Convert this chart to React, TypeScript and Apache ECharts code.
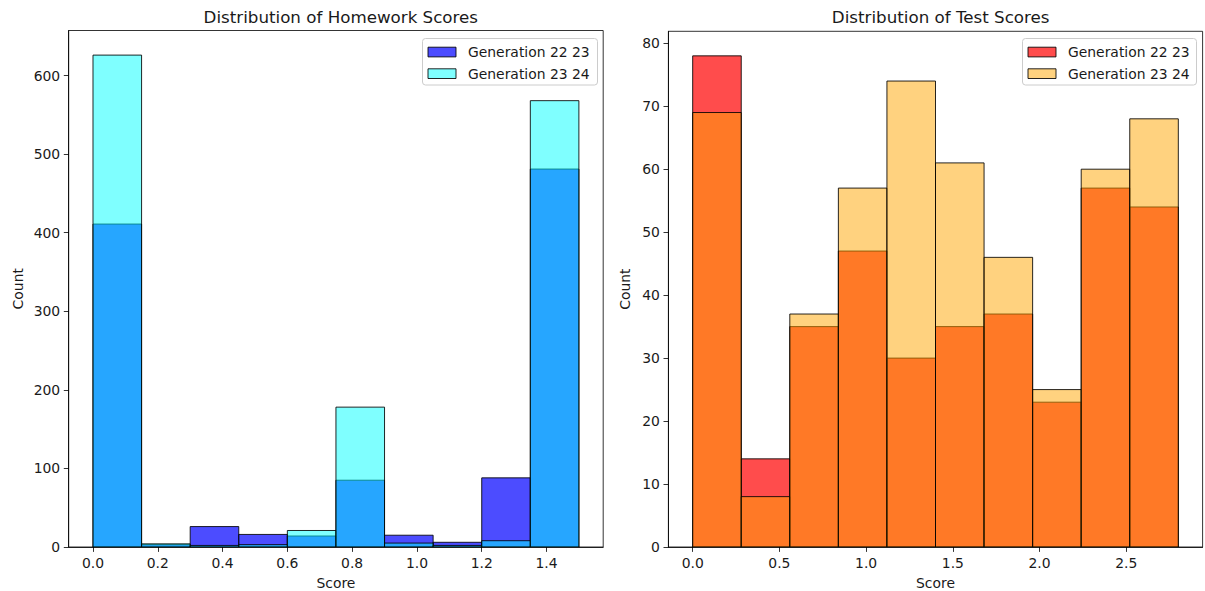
import React, { useEffect, useRef } from "react";
import * as echarts from "echarts";

const hwBins = [0, 0.15, 0.3, 0.45, 0.6, 0.75, 0.9, 1.05, 1.2, 1.35, 1.5];
const hwGen2223 = [411, 3, 26, 16, 14, 85, 15, 6, 88, 481];
const hwGen2324 = [626, 4, 2, 3, 21, 178, 5, 2, 8, 568];
const hwXTicks = [0, 0.2, 0.4, 0.6, 0.8, 1.0, 1.2, 1.4];
const hwYTicks = [0, 100, 200, 300, 400, 500, 600];

const testBins = [0, 0.28, 0.56, 0.84, 1.12, 1.4, 1.68, 1.96, 2.24, 2.52, 2.8];
const testGen2223 = [78, 14, 35, 47, 30, 35, 37, 23, 57, 54];
const testGen2324 = [69, 8, 37, 57, 74, 61, 46, 25, 60, 68];
const testXTicks = [0, 0.5, 1.0, 1.5, 2.0, 2.5];
const testYTicks = [0, 10, 20, 30, 40, 50, 60, 70, 80];

const seriesNames = ["Generation 22 23", "Generation 23 24"];

const FONT = "DejaVu Sans";
const TXT = "#1a1a1a";
const EDGE = "rgba(0,0,0,0.85)";

function binData(bins: number[], counts: number[]) {
  return counts.map((c, i) => [bins[i], bins[i + 1], c]);
}

function histSeries(name: string, data: number[][], fill: string, axisIndex: number) {
  return {
    type: "custom",
    name,
    xAxisIndex: axisIndex,
    yAxisIndex: axisIndex,
    data,
    encode: { x: [0, 1], y: 2 },
    clip: true,
    renderItem: (params: any, api: any) => {
      const p0 = api.coord([api.value(0), 0]);
      const p1 = api.coord([api.value(1), api.value(2)]);
      return {
        type: "rect",
        shape: {
          x: p0[0],
          y: p1[1],
          width: p1[0] - p0[0],
          height: p0[1] - p1[1],
        },
        style: { fill, stroke: EDGE, lineWidth: 1 },
      };
    },
  };
}

function legendGraphic(x: number, y: number, w: number, fills: string[]) {
  const children: any[] = [
    {
      type: "rect",
      shape: { x: 0, y: 0, width: w, height: 46.5, r: 3 },
      style: { fill: "rgba(255,255,255,0.8)", stroke: "#cccccc", lineWidth: 1 },
    },
  ];
  seriesNames.forEach((n, i) => {
    const cy = 13.5 + i * 21.6;
    children.push({
      type: "rect",
      shape: { x: 5.5, y: cy - 4.8, width: 28, height: 9.7 },
      style: { fill: fills[i], stroke: EDGE, lineWidth: 1 },
    });
    children.push({
      type: "text",
      x: 45.5,
      y: cy,
      style: {
        text: n,
        fill: TXT,
        font: `13.9px "${FONT}"`,
        textVerticalAlign: "middle",
        textAlign: "left",
      },
    });
  });
  return { type: "group", x, y, children };
}

function axisCommon() {
  return {
    axisLine: { show: true, onZero: false, lineStyle: { color: "#000", width: 0.8 } },
    axisTick: { show: true, inside: false, length: 4.9, lineStyle: { color: "#000", width: 0.8 } },
    axisLabel: { color: TXT, fontSize: 13.9, fontFamily: FONT, margin: 8.5 },
    splitLine: { show: false },
    nameTextStyle: { color: TXT, fontSize: 13.9, fontFamily: FONT },
  };
}

export default function App() {
  const ref = useRef<HTMLDivElement>(null);
  useEffect(() => {
    if (!ref.current) return;
    const chart = echarts.init(ref.current, null, { renderer: "svg" });
    const c = axisCommon();
    const fmt = (v: number) => v.toFixed(1);
    const option: any = {
      animation: false,
      backgroundColor: "#ffffff",
      title: [
        {
          text: "Distribution of Homework Scores",
          left: 335.8,
          top: 3,
          textAlign: "center",
          textStyle: { fontSize: 16.7, fontWeight: "normal", color: TXT, fontFamily: FONT },
        },
        {
          text: "Distribution of Test Scores",
          left: 935.7,
          top: 3,
          textAlign: "center",
          textStyle: { fontSize: 16.7, fontWeight: "normal", color: TXT, fontFamily: FONT },
        },
      ],
      grid: [
        { left: 68.7, top: 30.5, width: 534.5, height: 516.5, show: true, borderColor: "#000", borderWidth: 0.8, backgroundColor: "transparent", containLabel: false, outerBoundsMode: "none" },
        { left: 668.4, top: 31.3, width: 534.2, height: 515.7, show: true, borderColor: "#000", borderWidth: 0.8, backgroundColor: "transparent", containLabel: false, outerBoundsMode: "none" },
      ],
      xAxis: [
        {
          ...c,
          type: "value",
          gridIndex: 0,
          position: "bottom",
          min: -0.075,
          max: 1.575,
          name: "Score",
          nameLocation: "middle",
          nameGap: 29,
          axisTick: { ...c.axisTick, customValues: hwXTicks },
          axisLabel: { ...c.axisLabel, customValues: hwXTicks, formatter: fmt },
        },
        {
          ...c,
          type: "value",
          gridIndex: 1,
          position: "bottom",
          min: -0.14,
          max: 2.94,
          name: "Score",
          nameLocation: "middle",
          nameGap: 29,
          axisTick: { ...c.axisTick, customValues: testXTicks },
          axisLabel: { ...c.axisLabel, customValues: testXTicks, formatter: fmt },
        },
      ],
      yAxis: [
        {
          ...c,
          type: "value",
          gridIndex: 0,
          position: "left",
          min: 0,
          max: 657.3,
          name: "Count",
          nameLocation: "middle",
          nameGap: 44,
          axisTick: { ...c.axisTick, customValues: hwYTicks },
          axisLabel: { ...c.axisLabel, customValues: hwYTicks },
        },
        {
          ...c,
          type: "value",
          gridIndex: 1,
          position: "left",
          min: 0,
          max: 81.9,
          name: "Count",
          nameLocation: "middle",
          nameGap: 36,
          axisTick: { ...c.axisTick, customValues: testYTicks },
          axisLabel: { ...c.axisLabel, customValues: testYTicks },
        },
      ],
      series: [
        histSeries(seriesNames[0], binData(hwBins, hwGen2223), "rgba(0,0,255,0.7)", 0),
        histSeries(seriesNames[1], binData(hwBins, hwGen2324), "rgba(0,255,255,0.5)", 0),
        histSeries(seriesNames[0], binData(testBins, testGen2223), "rgba(255,0,0,0.7)", 1),
        histSeries(seriesNames[1], binData(testBins, testGen2324), "rgba(255,165,0,0.5)", 1),
      ],
      graphic: [
        legendGraphic(422.5, 38.5, 175, ["rgba(0,0,255,0.7)", "rgba(0,255,255,0.5)"]),
        legendGraphic(1022.5, 38.5, 174, ["rgba(255,0,0,0.7)", "rgba(255,165,0,0.5)"]),
      ],
    };
    chart.setOption(option);
    return () => chart.dispose();
  }, []);
  return (
    <div
      ref={ref}
      style={{ position: "fixed", left: 0, top: 0, width: 1205, height: 591, background: "#fff" }}
    />
  );
}
